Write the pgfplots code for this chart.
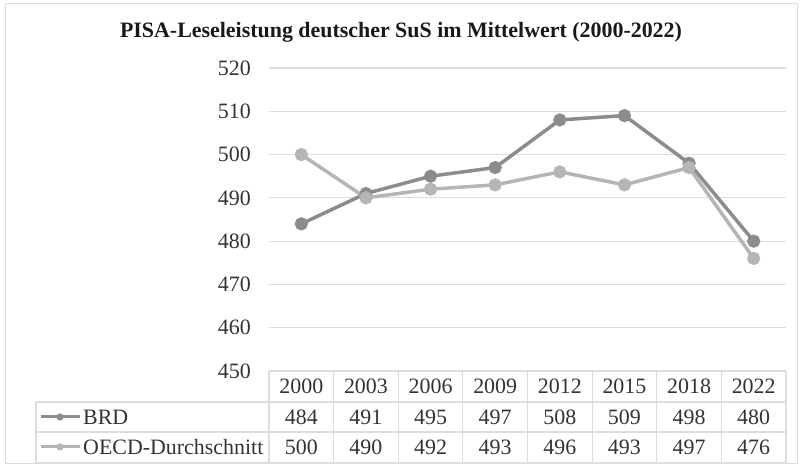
\documentclass[border=0pt]{standalone}
\usepackage{pgfplots}
\pgfplotsset{compat=1.18}
\usepackage{fontspec}
\setmainfont{Liberation Serif}

\definecolor{brd}{HTML}{8C8C8C}
\definecolor{oecd}{HTML}{B5B5B5}
\definecolor{gridgray}{HTML}{DDDDDD}
\definecolor{txt}{HTML}{333333}

\newcommand{\tabfont}{\fontsize{22}{26}\selectfont}

\begin{document}
\begin{tikzpicture}
  % page frame
  \begin{scope}[x=1bp,y=1bp]
    \path[use as bounding box] (0,0) rectangle (802,468);
    \draw[gridgray, line width=1bp] (5,4) rectangle (797,464);
    \node[font=\fontsize{22}{26}\selectfont\bfseries, text=black!90] at (401,436)
      {PISA-Leseleistung deutscher SuS im Mittelwert (2000-2022)};
  \end{scope}

  \begin{axis}[
    at={(269bp,97bp)}, anchor=south west,
    scale only axis, width=517bp, height=303bp,
    xmin=-0.5, xmax=7.5, ymin=450, ymax=520,
    ytick={450,460,...,520}, xtick=\empty,
    axis line style={draw=none},
    major tick length=0pt,
    ymajorgrids, grid style={gridgray, line width=1.2bp},
    yticklabel style={font=\tabfont, text=txt, inner sep=0pt, xshift=-18bp},
    /pgf/number format/assume math mode=true,
    clip=false,
  ]
    \addplot[brd, line width=3.5bp, mark=*, mark size=4.8bp, mark options={solid, fill=brd, draw=brd}]
      coordinates {(0,484) (1,491) (2,495) (3,497) (4,508) (5,509) (6,498) (7,480)};
    \addplot[oecd, line width=3.5bp, mark=*, mark size=4.8bp, mark options={solid, fill=oecd, draw=oecd}]
      coordinates {(0,500) (1,490) (2,492) (3,493) (4,496) (5,493) (6,497) (7,476)};
  \end{axis}

  % data table
  \begin{scope}[x=1bp,y=1bp]
    \draw[gridgray, line width=1.2bp] (269,97) -- (786,97);
    \draw[gridgray, line width=1.2bp] (36,66) -- (786,66);
    \draw[gridgray, line width=1.2bp] (36,36) -- (786,36);
    \draw[gridgray, line width=1.2bp] (36,5) -- (786,5);
    \draw[gridgray, line width=1.2bp] (36,66) -- (36,5);
    \foreach \k in {0,...,8} {
      \draw[gridgray, line width=1.2bp] ({269+64.625*\k},97) -- ({269+64.625*\k},5);
    }
    \foreach \v [count=\i from 0] in {2000,2003,2006,2009,2012,2015,2018,2022}
      \node[font=\tabfont, text=txt] at ({301.3+64.625*\i},82) {\v};
    \foreach \v [count=\i from 0] in {484,491,495,497,508,509,498,480}
      \node[font=\tabfont, text=txt] at ({301.3+64.625*\i},51) {\v};
    \foreach \v [count=\i from 0] in {500,490,492,493,496,493,497,476}
      \node[font=\tabfont, text=txt] at ({301.3+64.625*\i},21) {\v};
    % legend keys
    \draw[brd, line width=3bp] (41,51) -- (80,51);
    \fill[brd] (60,51) circle (3.6);
    \node[font=\tabfont, text=txt, anchor=west, inner sep=0pt] at (83,51) {BRD};
    \draw[oecd, line width=3bp] (41,21) -- (80,21);
    \fill[oecd] (60,21) circle (3.6);
    \node[font=\tabfont, text=txt, anchor=west, inner sep=0pt] at (83,21) {OECD-Durchschnitt};
  \end{scope}
\end{tikzpicture}
\end{document}
